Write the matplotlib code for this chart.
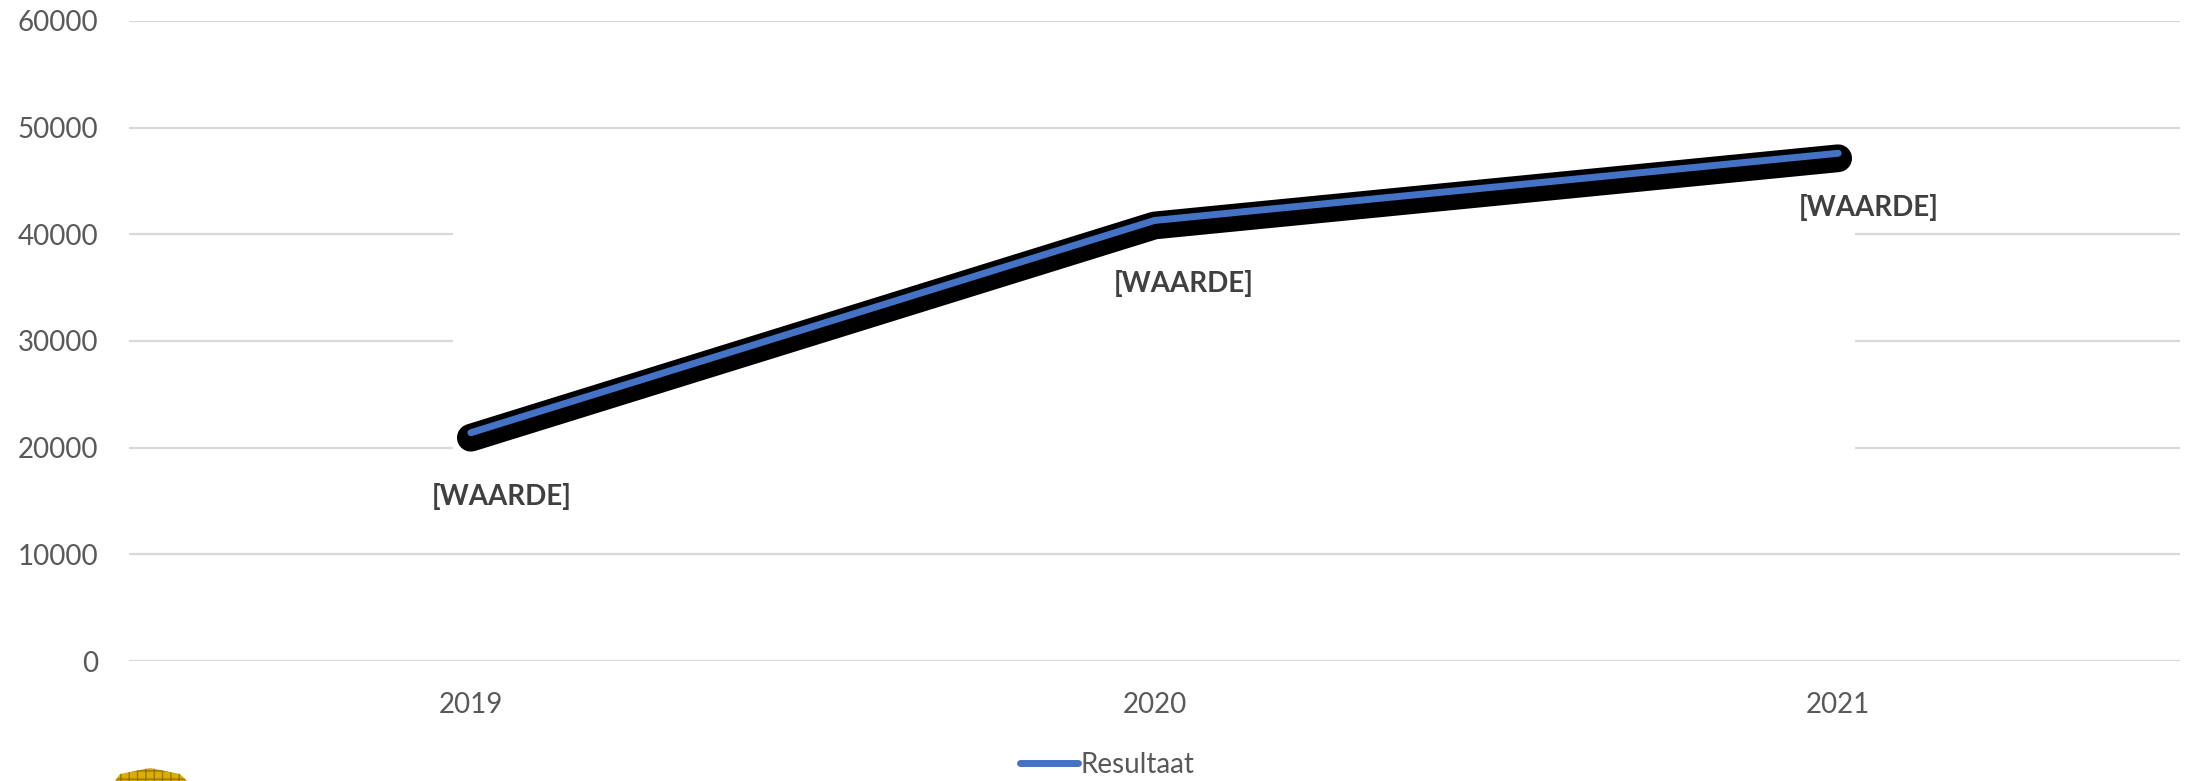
import matplotlib
matplotlib.use("Agg")
import matplotlib.pyplot as plt
import matplotlib.patheffects as pe
from matplotlib.patches import Rectangle, Polygon

plt.rcParams['font.family'] = ['Lato', 'DejaVu Sans']

# data
years = ["2019", "2020", "2021"]
resultaat = [21400, 41300, 47600]
point_labels = ["[WAARDE]", "[WAARDE]", "[WAARDE]"]
y_ticks = [0, 10000, 20000, 30000, 40000, 50000, 60000]

# label placement (pixels from the point)
label_offsets = [(31, -64), (29, -63), (31, -54)]

fig = plt.figure(figsize=(21.86, 7.81), dpi=100)
ax = fig.add_axes([129 / 2186, 1 - 661 / 781, (2180 - 129) / 2186, 640 / 781])

x = list(range(len(years)))
ax.set_xlim(-0.5, len(years) - 0.5)
ax.set_ylim(y_ticks[0], y_ticks[-1])
ax.set_yticks(y_ticks)
ax.set_xticks(x)
ax.set_xticklabels(years)

ax.grid(axis='y', color='#D9D9D9', linewidth=1.6, zorder=0)
ax.set_axisbelow(True)
for s in ax.spines.values():
    s.set_visible(False)
ax.tick_params(axis='both', length=0, labelsize=20, colors='#595959')
ax.tick_params(axis='y', pad=22)
ax.tick_params(axis='x', pad=22)

# white block that hides part of the gridlines in the original
cover = Rectangle((453 / 2186, 1 - 500 / 781), (1855 - 453) / 2186, 320 / 781,
                  transform=fig.transFigure, facecolor='white', edgecolor='none',
                  zorder=1.5, clip_on=False)
ax.add_artist(cover)

line, = ax.plot(x, resultaat, color='#4472C4', linewidth=5, solid_capstyle='round',
                solid_joinstyle='round', zorder=3, label='Resultaat',
                path_effects=[pe.Stroke(offset=(0, -3.6), linewidth=20, foreground='black'),
                              pe.Normal()])

for xi, yi, txt, off in zip(x, resultaat, point_labels, label_offsets):
    ax.annotate(txt, (xi, yi), xytext=off, textcoords='offset pixels',
                ha='center', va='center', fontsize=20, fontweight='bold',
                color='#404040', zorder=4)

leg_line = plt.Line2D([], [], color='#4472C4', linewidth=5, solid_capstyle='round')
fig.legend([leg_line], ['Resultaat'], loc='center', bbox_to_anchor=(1107 / 2186, 1 - 765 / 781),
           frameon=False, fontsize=20, labelcolor='#595959', handlelength=2.1,
           handletextpad=0.1, borderpad=0)

# small gold logo cut off at the bottom left
logo_pts = [(115, 781), (120, 774), (150, 768), (180, 774), (187, 781)]
logo = Polygon([(px / 100, (781 - py) / 100) for px, py in logo_pts], closed=True,
               transform=fig.dpi_scale_trans, facecolor='#D9AE00', edgecolor='#9A7400',
               hatch='++', linewidth=0)
fig.patches.append(logo)

fig.savefig("out.png", dpi=100)
